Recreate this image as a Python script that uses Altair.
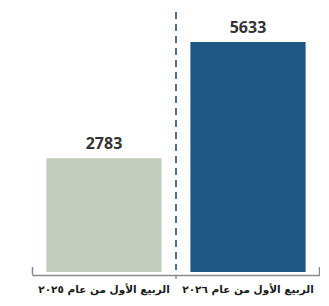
import altair as alt
import pandas as pd

categories = ["الربيع الأول من عام ٢٠٢٥", "الربيع الأول من عام ٢٠٢٦"]
values = [2783, 5633]
colors = ["#c3cbbc", "#1e5784"]

df = pd.DataFrame({"cat": categories, "val": values, "color": colors})

W, H = 288, 264

x = alt.X("cat:N", sort=categories,
          scale=alt.Scale(paddingInner=0.2, paddingOuter=0.1),
          axis=alt.Axis(title=None, labelAngle=0, domainColor="#8a8a8a", domainWidth=1.5,
                        ticks=False, offset=3, labelPadding=9,
                        labelFont="DejaVu Sans", labelFontWeight="bold", labelFontSize=10.5,
                        labelColor="#1a1a1a", labelLimit=200))
y = alt.Y("val:Q", scale=alt.Scale(domain=[0, 6466], nice=False),
          axis=None)

base = alt.Chart(df)
bars = base.mark_bar(opacity=1).encode(x=x, y=y, color=alt.Color("color:N", scale=None))
text = base.mark_text(dy=-9, baseline="alphabetic", font="Open Sans", fontWeight="bold",
                      fontSize=16, color="#333333").encode(x=x, y=y, text="val:Q")

rule_df = pd.DataFrame({"a": [0]})
dash = alt.Chart(rule_df).mark_rule(color="#4f6f8f", strokeWidth=2, strokeDash=[7, 5]).encode(
    x=alt.value(W / 2), y=alt.value(4), y2=alt.value(H - 2))
left_tick = alt.Chart(rule_df).mark_rule(color="#8a8a8a", strokeWidth=1.5).encode(
    x=alt.value(0.5), y=alt.value(H - 5), y2=alt.value(H + 3))
right_tick = alt.Chart(rule_df).mark_rule(color="#8a8a8a", strokeWidth=1.5).encode(
    x=alt.value(W - 0.5), y=alt.value(H - 5), y2=alt.value(H + 3))
mid_tick = alt.Chart(rule_df).mark_rule(color="#8a8a8a", strokeWidth=1.5).encode(
    x=alt.value(W / 2), y=alt.value(H + 3), y2=alt.value(H + 7))

chart = alt.layer(bars, text, dash, left_tick, right_tick, mid_tick).properties(
    width=W, height=H,
    autosize=alt.AutoSizeParams(type="none"),
    padding={"left": 24, "top": 0, "right": 0, "bottom": 26},
).configure(background="white", view=alt.ViewConfig(strokeWidth=0, stroke="transparent"))

chart.save("out.html", embed_options={"renderer": "svg", "actions": False})
